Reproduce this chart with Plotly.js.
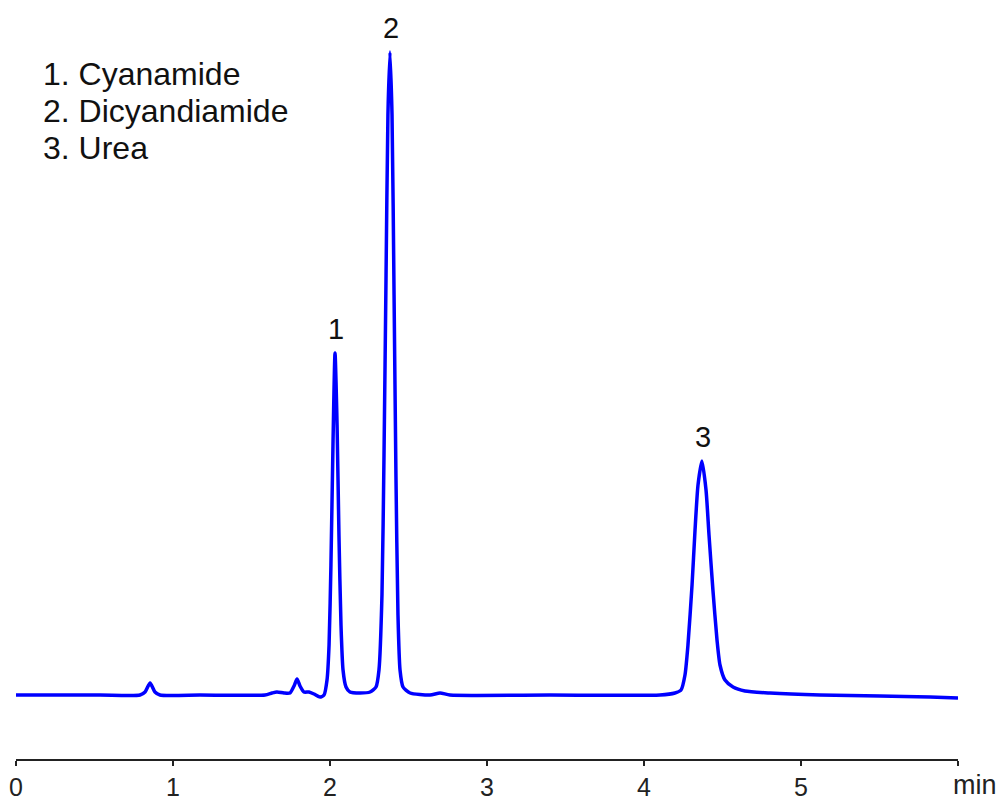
<!DOCTYPE html>
<html>
<head>
<meta charset="utf-8">
<script src="https://cdn.plot.ly/plotly-3.0.1.min.js"></script>
<style>html,body{margin:0;padding:0;background:#fff;}#chart{width:1003px;height:803px;}</style>
</head>
<body>
<div id="chart"></div>
<script>
// Retention time (min) and detector signal (arbitrary units)
const timeMin = [0.000,0.535,0.790,0.822,0.854,0.885,0.917,1.172,1.586,1.631,1.662,1.707,1.745,1.771,1.790,1.809,1.834,1.866,1.898,1.936,1.962,1.981,1.994,2.006,2.019,2.032,2.045,2.057,2.070,2.083,2.102,2.127,2.191,2.255,2.293,2.312,2.331,2.344,2.357,2.369,2.382,2.395,2.408,2.420,2.433,2.446,2.465,2.510,2.637,2.701,2.764,3.401,4.102,4.197,4.236,4.261,4.280,4.306,4.325,4.344,4.369,4.395,4.414,4.439,4.465,4.484,4.516,4.567,4.643,4.803,5.121,5.503,5.822,6.000];
const signal  = [0,0,0,3,12,3,0,0,0,2,3,2,2,9,16,9,3,3,1,-2,0,15,50,130,250,342,270,160,70,25,8,3,2,3,8,25,100,240,420,580,643,580,400,220,80,25,8,2,0,2,0,0,0,2,5,20,50,110,165,210,234,205,160,105,55,30,15,8,4,2,0,-1,-2,-3];

// Peak labels
const peakNums  = ["1","2","3"];
const peakTimes = [2.032,2.382,4.369];
const peakTops  = [342,643,234];
const compounds = ["1. Cyanamide","2. Dicyandiamide","3. Urea"];
const compoundY = [641,604,567];

const tickVals = [0,1,2,3,4,5,6];
const tickText = ["0","1","2","3","4","5",""];
const unitLabel = "min";

const sans = 'Liberation Sans, Arial, sans-serif';

const trace = {
  x: timeMin, y: signal, type: 'scatter', mode: 'lines',
  line: {color: '#0000ff', width: 3.5, shape: 'spline', smoothing: 0.6},
  hoverinfo: 'skip'
};

const annotations = peakNums.map((n, i) => ({
  x: peakTimes[i], y: peakTops[i], xref: 'x', yref: 'y', text: n, showarrow: false,
  xanchor: 'center', yanchor: 'bottom', yshift: 6, xshift: 1,
  font: {family: sans, size: 29, color: '#111'}
}));
compounds.forEach((c, i) => annotations.push({
  x: 0.159, y: compoundY[i], xref: 'x', yref: 'y', text: c, showarrow: false,
  xanchor: 'left', yanchor: 'top', align: 'left',
  font: {family: sans, size: 32, color: '#111'}
}));
annotations.push({
  x: 6, y: 0, xref: 'x', yref: 'paper', text: unitLabel, showarrow: false,
  xanchor: 'left', yanchor: 'top', xshift: -7, yshift: -9,
  font: {family: sans, size: 27, color: '#222'}
});

const layout = {
  width: 1003, height: 803,
  margin: {l: 16, r: 45, t: 20, b: 44},
  paper_bgcolor: '#fff', plot_bgcolor: '#fff',
  showlegend: false,
  xaxis: {
    range: [0, 6], showgrid: false, zeroline: false,
    showline: true, linecolor: '#222', linewidth: 1.5,
    ticks: 'outside', ticklen: 5, tickwidth: 1.2, tickcolor: '#222',
    tickvals: tickVals, ticktext: tickText,
    tickfont: {family: sans, size: 25, color: '#222'}
  },
  yaxis: {range: [-64, 675], visible: false, showgrid: false, zeroline: false},
  annotations: annotations
};

Plotly.newPlot('chart', [trace], layout, {displayModeBar: false, staticPlot: true});
</script>
</body>
</html>
